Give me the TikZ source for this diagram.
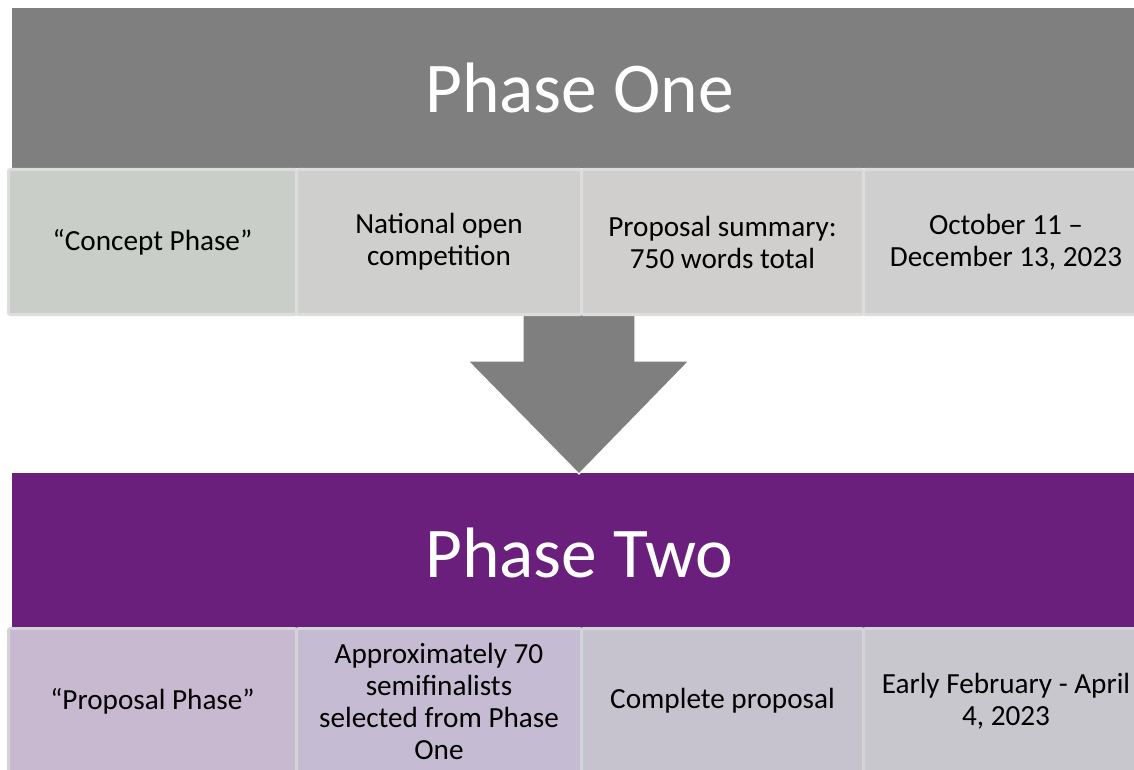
\documentclass[tikz,border=0pt]{standalone}
\usepackage{fontspec}
\setmainfont{Carlito}
\definecolor{oneGray}{HTML}{7F7F7F}
\definecolor{twoPurple}{HTML}{6A1F7D}
\definecolor{edgeLight}{HTML}{DCDDDC}
\definecolor{edgeLilac}{HTML}{D2D4D8}
\definecolor{oneA}{HTML}{C9CEC8}
\definecolor{oneB}{HTML}{CFCFCE}
\definecolor{oneC}{HTML}{D0CFCE}
\definecolor{oneD}{HTML}{CFCFCF}
\definecolor{twoA}{HTML}{C8B9D1}
\definecolor{twoB}{HTML}{C5BCD3}
\definecolor{twoC}{HTML}{C6C3CF}
\definecolor{twoD}{HTML}{C8C7CD}
\tikzset{
  phasebar/.style={fill=#1, text=white, inner sep=0pt, anchor=north west,
    minimum width=567pt, minimum height=80pt,
    font=\fontsize{35.7}{43}\selectfont},
  cellbox/.style={fill=#1, inner sep=0pt, anchor=north west, align=center,
    minimum height=72.5pt, rounded corners=1pt, line width=1.5pt,
    font=\fontsize{14.6}{16}\selectfont},
}
\begin{document}
\begin{tikzpicture}[x=0.5pt,y=-0.5pt]
\useasboundingbox (0,0) rectangle (1134,770);
\fill[white] (0,0) rectangle (1134,770);

\node[phasebar=oneGray] (one) at (12,8) {Phase One};
\node[phasebar=twoPurple] (two) at (12,473) {Phase Two};

\fill[oneGray, draw=white, line width=0.6pt] (523,313) -- (635,313) -- (635,361) -- (689,361)
  -- (579,474) -- (468,361) -- (523,361) -- cycle;

\node[cellbox=oneA, draw=edgeLight, minimum width=144pt] (p1) at (7,168) {``Concept Phase''};
\node[cellbox=oneB, draw=edgeLight, minimum width=142.5pt] (p2) at (295,168) {National open\\competition};
\node[cellbox=oneC, draw=edgeLight, minimum width=141pt] (p3) at (580,168) {Proposal summary:\\750 words total};
\node[cellbox=oneD, draw=edgeLight, minimum width=142.5pt] (p4) at (862,168) {October 11 --\\December 13, 2023};

\node[cellbox=twoA, draw=edgeLilac, minimum width=144pt] (q1) at (7,627) {``Proposal Phase''};
\node[cellbox=twoB, draw=edgeLilac, minimum width=142.5pt] (q2) at (295,627) {Approximately 70\\semifinalists\\selected from Phase\\One};
\node[cellbox=twoC, draw=edgeLilac, minimum width=141pt] (q3) at (580,627) {Complete proposal};
\node[cellbox=twoD, draw=edgeLilac, minimum width=142.5pt] (q4) at (862,627) {Early February - April\\4, 2023};
\end{tikzpicture}
\end{document}
